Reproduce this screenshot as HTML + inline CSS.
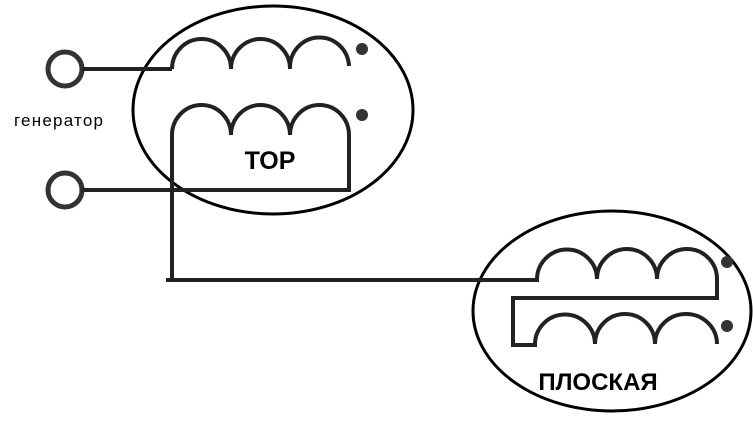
<!DOCTYPE html>
<html><head><meta charset="utf-8"><style>body{margin:0;background:#fff}</style></head><body>
<svg width="753" height="417" viewBox="0 0 753 417" xmlns="http://www.w3.org/2000/svg">
<g fill="none" stroke="#000" stroke-width="3">
<ellipse cx="273" cy="110" rx="140" ry="104"/>
<ellipse cx="612" cy="311" rx="139" ry="100"/>
</g>
<g fill="none" stroke="#333" stroke-width="5">
<circle cx="65" cy="69" r="17"/>
<circle cx="65" cy="190" r="17"/>
</g>
<g fill="none" stroke="#222" stroke-width="4">
<path d="M82 69 H172"/>
<path d="M172 69 A29.5 30 0 0 1 231 69 A29.5 30 0 0 1 290 69 A29.5 30 0 0 1 349 66"/>
<path d="M172 280 V135 A29.5 30 0 0 1 231 135 A29.5 30 0 0 1 290 135 A29.5 30 0 0 1 349 135 V190 H82"/>
<path d="M166 280 H537 A30 30 0 0 1 597 279 A30 30 0 0 1 657 279 A30 30 0 0 1 717 279 V298 H513 V345 H535 A30 30 0 0 1 595 344 A30 30 0 0 1 655 344 A31 30 0 0 1 717 344"/>
</g>
<g fill="#333">
<circle cx="362" cy="49" r="6"/>
<circle cx="362" cy="115" r="6"/>
<circle cx="727" cy="262" r="6"/>
<circle cx="727" cy="326" r="6"/>
</g>
<text x="270" y="169" text-anchor="middle" font-family="Liberation Sans, DejaVu Sans, sans-serif" font-weight="bold" font-size="25" fill="#000">ТОР</text>
<text x="598" y="390" text-anchor="middle" font-family="Liberation Sans, DejaVu Sans, sans-serif" font-weight="bold" font-size="24" fill="#000">ПЛОСКАЯ</text>
<text x="14" y="126" font-family="Liberation Sans, DejaVu Sans, sans-serif" font-size="17" textLength="89" fill="#000">генератор</text>
</svg>
</body></html>
